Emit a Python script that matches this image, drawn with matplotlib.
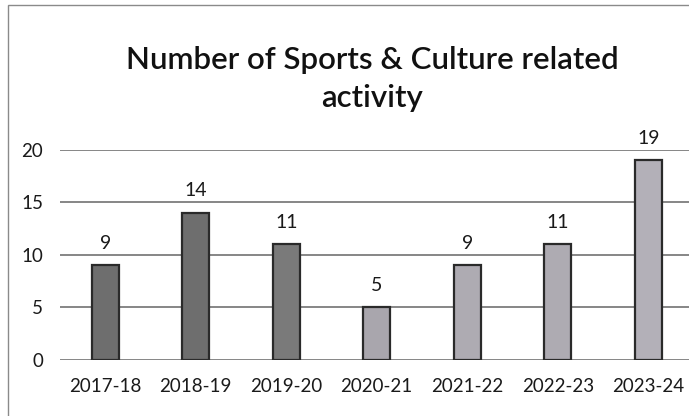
import matplotlib.pyplot as plt
from matplotlib.patches import Rectangle

years = ["2017-18", "2018-19", "2019-20", "2020-21", "2021-22", "2022-23", "2023-24"]
activities = [9, 14, 11, 5, 9, 11, 19]
bar_colors = ["#6e6e6e", "#6e6e6e", "#7a7a7a", "#a9a6ad", "#aeabb2", "#aeabb2", "#b3b0b8"]

plt.rcParams["font.family"] = ["Lato", "DejaVu Sans"]

fig = plt.figure(figsize=(6.89, 4.16), dpi=100)
# chart border
fig.patches.append(Rectangle((0.012, -0.01), 1.2, 0.997, transform=fig.transFigure,
                             fill=False, edgecolor="#8a8a8a", linewidth=1.0))

ax = fig.add_axes([0.087, 0.135, 0.913, 0.505])
x = range(len(years))
bars = ax.bar(x, activities, width=0.3, color=bar_colors, edgecolor="#2a2a2a",
              linewidth=1.6, zorder=3)
for b, v in zip(bars, activities):
    ax.text(b.get_x() + b.get_width() / 2, v + 1.3, str(v), ha="center", va="bottom",
            fontsize=14, color="#1a1a1a")

ax.set_ylim(0, 20)
ax.set_xlim(-0.5, 6.45)
ax.set_yticks([0, 5, 10, 15, 20])
ax.set_xticks(list(x))
ax.set_xticklabels(years)
ax.tick_params(axis="both", length=0, labelsize=13.5, colors="#1a1a1a")
ax.tick_params(axis="x", pad=13)
ax.tick_params(axis="y", pad=12)
ax.grid(axis="y", color="#666666", linewidth=1.1, zorder=0)
for s in ax.spines.values():
    s.set_visible(False)

fig.text(0.54, 0.81, "Number of Sports & Culture related\nactivity", ha="center",
         va="center", fontsize=22.5, fontweight="semibold", linespacing=1.45,
         color="#111111")

fig.savefig("out.png", dpi=100)
